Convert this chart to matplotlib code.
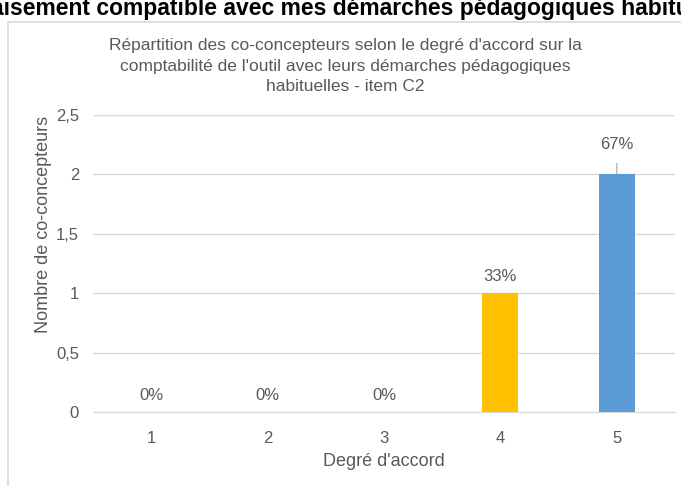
import matplotlib.pyplot as plt
from matplotlib.patches import Rectangle

categories = ["1", "2", "3", "4", "5"]
counts = [0, 0, 0, 1, 2]
pct_labels = ["0%", "0%", "0%", "33%", "67%"]
colors = ["#5B9BD5", "#5B9BD5", "#5B9BD5", "#FFC000", "#5B9BD5"]

plt.rcParams['font.family'] = ['Liberation Sans', 'DejaVu Sans']
grey = "#595959"

fig = plt.figure(figsize=(6.81, 4.86), dpi=100)

# chart frame
fig.patches.append(Rectangle((8 / 681, -0.01), 0.99, (486 - 22) / 486 + 0.01,
                             transform=fig.transFigure, fill=False,
                             edgecolor="#D9D9D9", linewidth=1.2))

# cut-off banner title (cropped in the source screenshot)
fig.text(340 / 681, 1 - 15 / 486, "aisement compatible avec mes démarches pédagogiques habitu",
         ha="center", va="baseline", fontsize=16.5, fontweight="bold", color="black")

ax = fig.add_axes([93 / 681, 74 / 486, 582 / 681, 297 / 486])
x = range(len(categories))
ax.bar(x, counts, width=0.31, color=colors, zorder=3)
ax.set_xlim(-0.5, 4.5)
ax.set_ylim(0, 2.5)
ax.set_yticks([0, 0.5, 1, 1.5, 2, 2.5])
ax.set_yticklabels(["0", "0,5", "1", "1,5", "2", "2,5"])
ax.set_xticks(list(x))
ax.set_xticklabels(categories)
ax.tick_params(length=0, colors=grey, labelsize=12)
ax.tick_params(axis="x", pad=14)
ax.tick_params(axis="y", pad=10)
ax.grid(axis="y", color="#D9D9D9", linewidth=1, zorder=0)
for s in ax.spines.values():
    s.set_visible(False)
ax.spines["bottom"].set_visible(True)
ax.spines["bottom"].set_color("#D9D9D9")

for i, (v, lab) in enumerate(zip(counts, pct_labels)):
    if i == 4:
        ax.annotate(lab, xy=(i, v), xytext=(i, v + 0.25), ha="center", va="center",
                    fontsize=12, color=grey,
                    arrowprops=dict(arrowstyle="-", color="#A6A6A6", lw=0.8, shrinkA=6, shrinkB=0))
    else:
        ax.text(i, v + 0.14, lab, ha="center", va="center", fontsize=12, color=grey)

ax.set_xlabel("Degré d'accord", fontsize=13, color=grey, labelpad=5)
ax.set_ylabel("Nombre de co-concepteurs", fontsize=13, color=grey)
ax.yaxis.set_label_coords(-0.07, 0.633)

fig.text(345 / 681, 1 - 66 / 486,
         "Répartition des co-concepteurs selon le degré d'accord sur la\n"
         "comptabilité de l'outil avec leurs démarches pédagogiques\n"
         "habituelles - item C2",
         ha="center", va="center", fontsize=12.5, color=grey, linespacing=1.45)

plt.savefig("out.png", dpi=100)
